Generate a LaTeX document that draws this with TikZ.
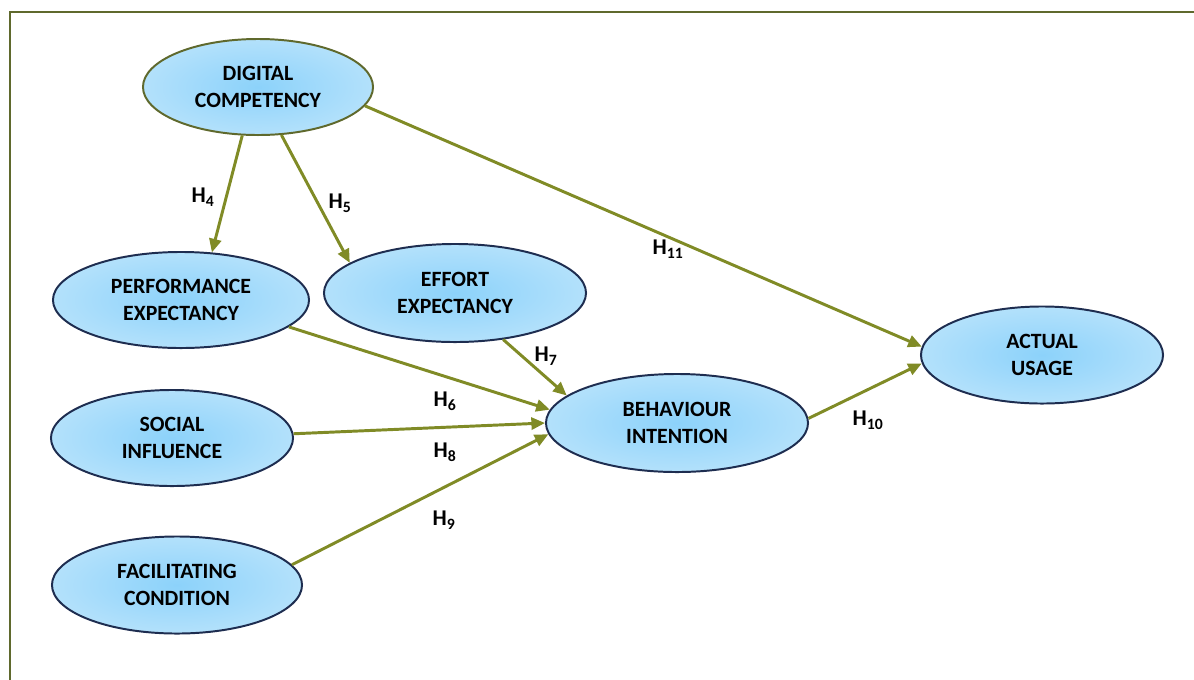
\documentclass[tikz,border=0pt]{standalone}
\usepackage{fontspec}
\setmainfont{Carlito}
\usepackage{xcolor}
\usepackage{tikz}
\usetikzlibrary{positioning,shapes.geometric,arrows.meta}
\definecolor{framegreen}{RGB}{95,105,45}
\definecolor{hypolive}{RGB}{128,139,38}
\definecolor{rimnavy}{RGB}{30,45,80}
\definecolor{coreblue}{RGB}{140,210,250}
\definecolor{paleblue}{RGB}{218,240,253}
\pgfdeclareradialshading{bubble}{\pgfpoint{0bp}{0bp}}{%
  color(0bp)=(coreblue); color(50bp)=(paleblue); color(72bp)=(paleblue)}

\begin{document}
\begin{tikzpicture}[x=0.025cm,y=-0.025cm,
    construct/.style={ellipse,draw=rimnavy,line width=1.4pt,shading=bubble,
        inner sep=0pt,align=center,font=\fontsize{15.5}{19}\selectfont\bfseries},
    hyp/.style={draw=hypolive,line width=2.1pt,
        -{Triangle[length=3.4mm,width=3mm]}},
    hlabel/.style={font=\fontsize{16}{18}\selectfont\bfseries}]
    \useasboundingbox (0,0) rectangle (1194,679);
    % Frame
    \draw[framegreen,line width=1.5pt] (10,700) -- (10,12) -- (1210,12);
    
    % Constructs
    \node[construct,draw=framegreen,minimum width=5.75cm,minimum height=2.4cm]
        (dc) at (258,87) {DIGITAL\\COMPETENCY};
    \node[construct,minimum width=6.4cm,minimum height=2.4cm]
        (pe) at (181,300) {PERFORMANCE\\EXPECTANCY};
    \node[construct,minimum width=6.55cm,minimum height=2.45cm]
        (ee) at (455,293) {EFFORT\\EXPECTANCY};
    \node[construct,minimum width=6.05cm,minimum height=2.4cm]
        (si) at (172,438) {SOCIAL\\INFLUENCE};
    \node[construct,minimum width=6.25cm,minimum height=2.425cm]
        (fc) at (177,585) {FACILITATING\\CONDITION};
    \node[construct,minimum width=6.55cm,minimum height=2.45cm]
        (bi) at (677,423) {BEHAVIOUR\\INTENTION};
    \node[construct,minimum width=6.05cm,minimum height=2.425cm]
        (au) at (1042,355) {ACTUAL\\USAGE};
    
    % Hypotheses
    \draw[hyp] (dc.252) -- (pe.57);
    \draw[hyp] (dc.296) -- (ee.164);
    \draw[hyp] (dc.350.6) -- (au.176.7);
    \draw[hyp] (pe.346) -- (bi.174.2);
    \draw[hyp] (ee.316.8) -- (bi.166.4);
    \draw[hyp] (si.2.8) -- (bi.180);
    \draw[hyp] (fc.10.8) -- (bi.185.8);
    \draw[hyp] (bi.2.2) -- (au.184.8);
    
    % Labels
    \node[hlabel] (h4) at (203,197) {H\textsubscript{4}};
    \node[hlabel] (h5) at (340,203) {H\textsubscript{5}};
    \node[hlabel] (h11) at (668,249) {H\textsubscript{11}};
    \node[hlabel] (h6) at (445,401) {H\textsubscript{6}};
    \node[hlabel] (h7) at (546,356) {H\textsubscript{7}};
    \node[hlabel] (h8) at (445,452) {H\textsubscript{8}};
    \node[hlabel] (h9) at (444,520) {H\textsubscript{9}};
    \node[hlabel] (h10) at (868,420) {H\textsubscript{10}};
\end{tikzpicture}
\end{document}
